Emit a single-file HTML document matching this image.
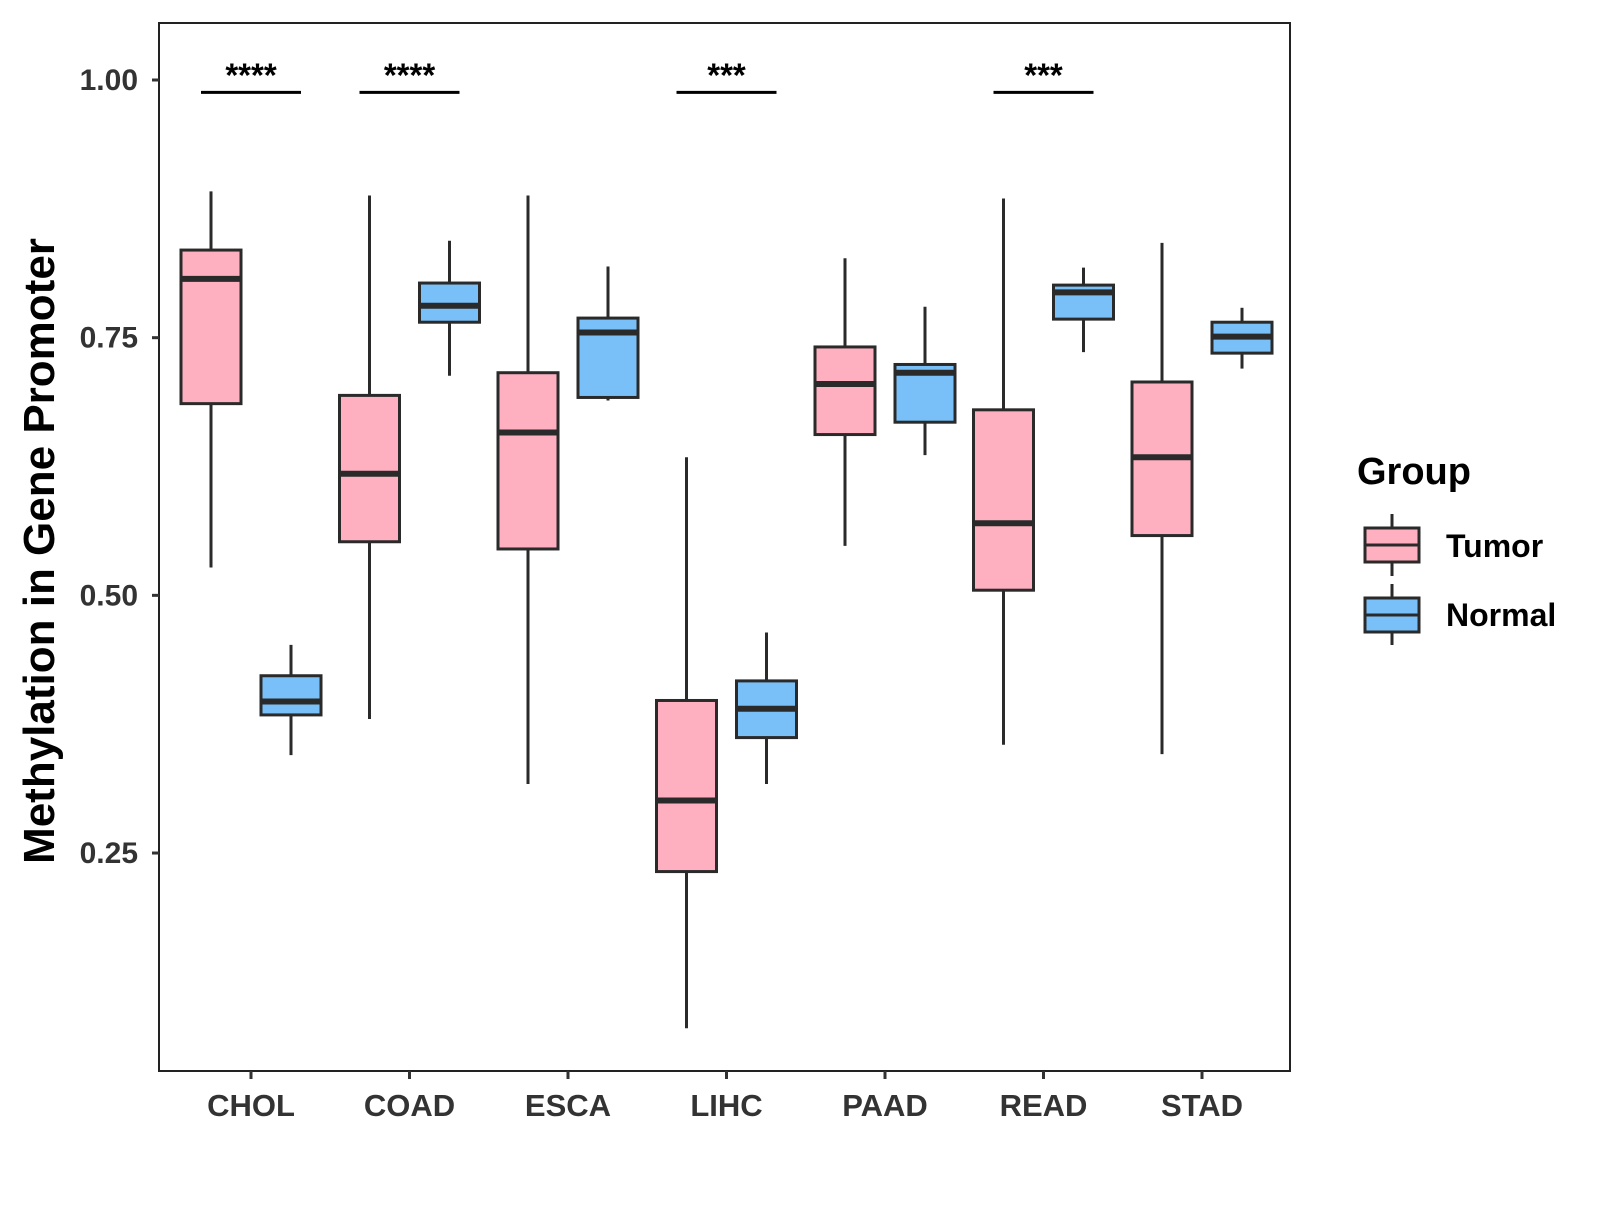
<!DOCTYPE html>
<html><head><meta charset="utf-8"><style>
html,body{margin:0;padding:0;background:#fff;}
svg text{font-family:"Liberation Sans",Arial,sans-serif;font-weight:bold;}
</style></head><body>
<svg id="chart" width="1600" height="1200" xmlns="http://www.w3.org/2000/svg">
<rect x="159" y="23" width="1131" height="1048" fill="#fff" stroke="#222" stroke-width="2"/>
<g id="marks"></g>
<text transform="translate(54,551) rotate(-90)" text-anchor="middle" font-size="44" fill="#000">Methylation in Gene Promoter</text>
<text x="1357" y="484" font-size="38" fill="#000">Group</text>
<g>
<line x1="1392" y1="514" x2="1392" y2="576" stroke="#2a2a2a" stroke-width="3"/>
<rect x="1365" y="528" width="54" height="34" fill="#FFB0C0" stroke="#2a2a2a" stroke-width="3"/>
<line x1="1365" y1="545" x2="1419" y2="545" stroke="#2a2a2a" stroke-width="3"/>
<text x="1446" y="557" font-size="32" fill="#000">Tumor</text>
</g>
<g>
<line x1="1392" y1="584" x2="1392" y2="645" stroke="#2a2a2a" stroke-width="3"/>
<rect x="1365" y="598" width="54" height="34" fill="#7AC0F8" stroke="#2a2a2a" stroke-width="3"/>
<line x1="1365" y1="615" x2="1419" y2="615" stroke="#2a2a2a" stroke-width="3"/>
<text x="1446" y="626" font-size="32" fill="#000">Normal</text>
</g>
</svg>
<script>
const categories=["CHOL","COAD","ESCA","LIHC","PAAD","READ","STAD"];
const tumorStats=[[0.527,0.686,0.807,0.835,0.892],[0.380,0.552,0.618,0.694,0.888],[0.317,0.545,0.658,0.716,0.888],[0.080,0.232,0.301,0.398,0.634],[0.548,0.656,0.705,0.741,0.827],[0.355,0.505,0.570,0.680,0.885],[0.346,0.558,0.634,0.707,0.842]];
const normalStats=[[0.345,0.384,0.397,0.422,0.452],[0.713,0.765,0.781,0.803,0.844],[0.689,0.692,0.755,0.769,0.819],[0.317,0.362,0.390,0.417,0.464],[0.636,0.668,0.716,0.724,0.780],[0.736,0.768,0.794,0.801,0.818],[0.720,0.735,0.751,0.765,0.779]];
const signifLabels=["****","****","","***","","***",""];
const yTicks=[0.25,0.5,0.75,1.0];
const yTickLabels=["0.25","0.50","0.75","1.00"];
const signifY=0.988;

const NS="http://www.w3.org/2000/svg";
const g=document.getElementById("marks");
function yS(v){return 80+(1-v)*1030.7;}
function xS(i){return 251+i*158.5;}
function el(t,a,p){const e=document.createElementNS(NS,t);for(const k in a)e.setAttribute(k,a[k]);(p||g).appendChild(e);return e;}
yTicks.forEach((v,i)=>{
  const t=el("line",{x1:152,x2:159,y1:yS(v),y2:yS(v),stroke:"#333","stroke-width":3});
  
  
  const l=el("text",{x:138,y:yS(v)+10,"text-anchor":"end","font-size":30,fill:"#333"});
  l.textContent=yTickLabels[i];
  
  
});
categories.forEach((c,i)=>{
  const x=xS(i);
  const t=el("line",{x1:x,x2:x,y1:1071,y2:1079,stroke:"#333","stroke-width":3});
  
  
  const l=el("text",{x:x,y:1116,"text-anchor":"middle","font-size":31,fill:"#333"});
  l.textContent=c;
  
  
  [[tumorStats[i],-40,"#FFB0C0","tumor"],[normalStats[i],40,"#7AC0F8","normal"]].forEach(([s,off,col,nm])=>{
    const cx=x+off,w=60;
    const grp=el("g",{});
    
    
    el("line",{x1:cx,x2:cx,y1:yS(s[4]),y2:yS(s[0]),stroke:"#2a2a2a","stroke-width":3},grp);
    el("rect",{x:cx-w/2,y:yS(s[3]),width:w,height:yS(s[1])-yS(s[3]),fill:col,stroke:"#2a2a2a","stroke-width":3},grp);
    el("line",{x1:cx-w/2,x2:cx+w/2,y1:yS(s[2]),y2:yS(s[2]),stroke:"#2a2a2a","stroke-width":6},grp);
  });
  if(signifLabels[i]){
    const b=el("line",{x1:x-50,x2:x+50,y1:yS(signifY),y2:yS(signifY),stroke:"#000","stroke-width":3});
    
    
    const s=el("text",{x:x,y:yS(signifY)-6,"text-anchor":"middle","font-size":33,fill:"#000"});
    s.textContent=signifLabels[i];
    
    
  }
});
</script>
</body></html>
